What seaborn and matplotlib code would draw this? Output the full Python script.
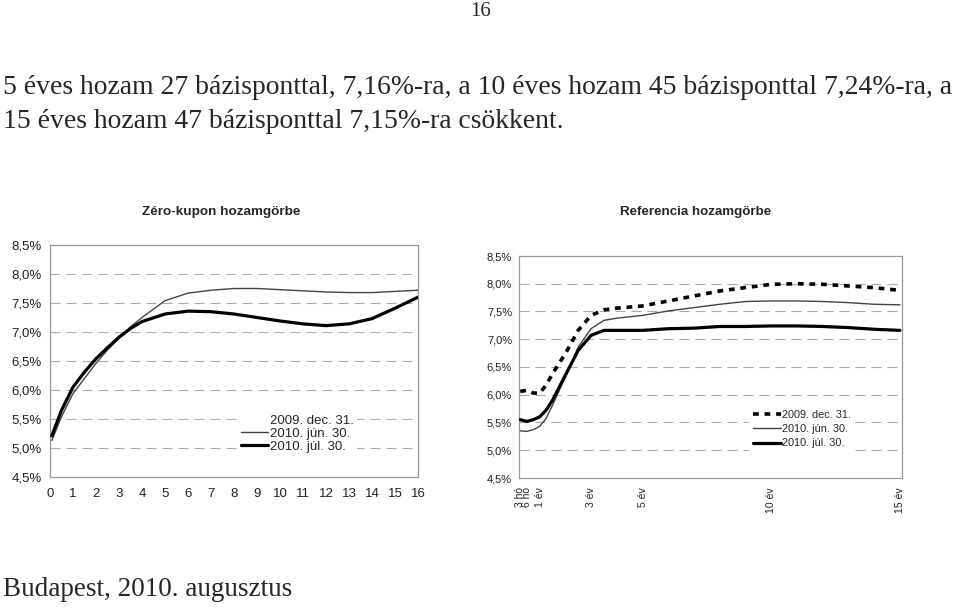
import matplotlib
matplotlib.use("Agg")
import matplotlib.pyplot as plt
from matplotlib.lines import Line2D
import seaborn as sns
import pandas as pd

sns.set_style("white")
plt.rcParams['font.family'] = ['Liberation Sans', 'DejaVu Sans']

# ---------------- data ----------------
series_names = ["2009. dec. 31.", "2010. jún. 30.", "2010. júl. 30."]

# Left chart: Zéro-kupon hozamgörbe (maturity in years)
zc_x = [0.08, 0.5, 1, 1.5, 2, 2.5, 3, 3.5, 4, 5, 6, 7, 8, 9, 10, 11, 12, 13, 14, 15, 16]
zc_jun = [5.13, 5.54, 5.94, 6.20, 6.46, 6.69, 6.89, 7.09, 7.25, 7.54, 7.67, 7.72, 7.75, 7.75,
          7.73, 7.71, 7.69, 7.68, 7.68, 7.70, 7.72]
zc_jul = [5.21, 5.65, 6.05, 6.31, 6.54, 6.73, 6.91, 7.06, 7.18, 7.31, 7.36, 7.35, 7.31, 7.25,
          7.19, 7.14, 7.11, 7.14, 7.23, 7.41, 7.60]
zc_xticks = list(range(0, 17))

# Right chart: Referencia hozamgörbe
ref_x = [0.25, 0.5, 0.75, 1, 1.25, 1.5, 2, 2.5, 3, 3.5, 4, 5, 6, 7, 8, 9, 10, 11, 12, 13, 14, 15]
ref_dec = [6.06, 6.08, 6.03, 6.03, 6.17, 6.38, 6.74, 7.16, 7.43, 7.53, 7.56, 7.60, 7.69, 7.78,
           7.87, 7.93, 7.99, 8.00, 7.99, 7.96, 7.93, 7.88]
ref_jun = [5.35, 5.34, 5.37, 5.43, 5.57, 5.81, 6.32, 6.86, 7.19, 7.34, 7.38, 7.43, 7.51, 7.57,
           7.63, 7.68, 7.69, 7.69, 7.68, 7.66, 7.63, 7.62]
ref_jul = [5.55, 5.52, 5.55, 5.60, 5.72, 5.90, 6.35, 6.80, 7.07, 7.16, 7.16, 7.16, 7.19, 7.20,
           7.23, 7.23, 7.24, 7.24, 7.23, 7.21, 7.18, 7.16]
ref_tick_pos = [0.25, 0.5, 1, 3, 5, 10, 15]
ref_tick_labels = ["3 hó", "6 hó", "1 év", "3 év", "5 év", "10 év", "15 év"]

y_ticks = [4.5, 5.0, 5.5, 6.0, 6.5, 7.0, 7.5, 8.0, 8.5]
grid_levels = [5.0, 5.5, 6.0, 6.5, 7.0, 7.5, 8.0]

# ---------------- figure ----------------
fig = plt.figure(figsize=(9.6, 6.08), dpi=100)

serif = ['Liberation Serif', 'DejaVu Serif']
fig.text(481 / 960, 1 - 11 / 608, "16", ha="center", va="center", fontsize=15, family=serif)
fig.text(3 / 960, 1 - 87 / 608,
         "5 éves hozam 27 bázisponttal, 7,16%-ra, a 10 éves hozam 45 bázisponttal 7,24%-ra, a",
         ha="left", va="center", fontsize=19.9, family=serif)
fig.text(3 / 960, 1 - 122 / 608, "15 éves hozam 47 bázisponttal 7,15%-ra csökkent.",
         ha="left", va="center", fontsize=19.9, family=serif)
fig.text(3 / 960, 1 - 590 / 608, "Budapest, 2010. augusztus",
         ha="left", va="center", fontsize=19.5, family=serif)

fig.text(221 / 960, 1 - 212 / 608, "Zéro-kupon hozamgörbe", ha="center", va="center",
         fontsize=9.7, fontweight="bold")
fig.text(696 / 960, 1 - 212 / 608, "Referencia hozamgörbe", ha="center", va="center",
         fontsize=9.6, fontweight="bold")

ax1 = fig.add_axes([50 / 960, 1 - 477 / 608, 368 / 960, 232 / 608])
ax2 = fig.add_axes([519 / 960, 1 - 478 / 608, 383 / 960, 222 / 608])

grid_kw = dict(color="#aaaaaa", lw=0.8, linestyle=(0, (9, 5.4)), zorder=0)
for ax in (ax1, ax2):
    for g in grid_levels:
        ax.axhline(g, **grid_kw)
    for s in ax.spines.values():
        s.set_color("#999999")
        s.set_linewidth(0.9)
    ax.set_ylim(4.5, 8.5)
    ax.set_yticks(y_ticks)
    ax.set_yticklabels([f"{v:.1f}%".replace(".", ",") for v in y_ticks])
    ax.tick_params(axis="both", direction="out", length=3, width=0.8, color="#999999")

# left chart
df_l = pd.DataFrame({"x": zc_x * 2,
                     "y": zc_jun + zc_jul,
                     "s": [series_names[1]] * len(zc_x) + [series_names[2]] * len(zc_x)})
sns.lineplot(data=df_l[df_l.s == series_names[1]], x="x", y="y", ax=ax1, color="#444444",
             lw=1.0, legend=False, zorder=3)
sns.lineplot(data=df_l[df_l.s == series_names[2]], x="x", y="y", ax=ax1, color="black",
             lw=2.3, legend=False, zorder=4)
ax1.set_xlim(0, 16)
ax1.set_xticks(zc_xticks)
ax1.tick_params(axis="both", labelsize=9.5, colors="#999999", labelcolor="#222222")
ax1.yaxis.set_tick_params(pad=3)
ax1.xaxis.set_tick_params(pad=5)
ax1.set_xlabel("")
ax1.set_ylabel("")

h1 = [Line2D([], [], color="white", lw=1.0),
      Line2D([], [], color="#444444", lw=1.0),
      Line2D([], [], color="black", lw=2.3)]
leg1 = ax1.legend(h1, series_names, loc="upper left", bbox_to_anchor=(180 / 368, 1 - 159 / 232),
                  frameon=True, facecolor="white", edgecolor="none", framealpha=1,
                  fontsize=9.5, handlelength=2.1, handletextpad=0.1, labelspacing=0.05,
                  borderpad=0.3, fancybox=False)
leg1.set_zorder(5)

# right chart
sns.lineplot(x=ref_x, y=ref_dec, ax=ax2, color="black", lw=2.6,
             linestyle=(0, (1.6, 1.6)), legend=False, zorder=3)
sns.lineplot(x=ref_x, y=ref_jun, ax=ax2, color="#444444", lw=1.0, legend=False, zorder=3)
sns.lineplot(x=ref_x, y=ref_jul, ax=ax2, color="black", lw=2.3, legend=False, zorder=4)
ax2.set_xlim(0.2, 15.08)
ax2.set_xticks(ref_tick_pos)
ax2.set_xticklabels(ref_tick_labels, rotation=90, fontsize=7.5)
ax2.tick_params(axis="y", labelsize=8, pad=2)
ax2.tick_params(axis="both", labelcolor="#222222")
ax2.set_xlabel("")
ax2.set_ylabel("")

h2 = [Line2D([], [], color="black", lw=2.6, linestyle=(0, (1.6, 1.6))),
      Line2D([], [], color="#444444", lw=1.0),
      Line2D([], [], color="black", lw=2.3)]
leg2 = ax2.legend(h2, series_names, loc="upper left", bbox_to_anchor=(225 / 383, 1 - 145 / 222),
                  frameon=True, facecolor="white", edgecolor="none", framealpha=1,
                  fontsize=7.8, handlelength=2.6, handletextpad=0.1, labelspacing=0.4,
                  borderpad=0.3, fancybox=False)
leg2.set_zorder(5)

fig.savefig("out.png", dpi=100)
